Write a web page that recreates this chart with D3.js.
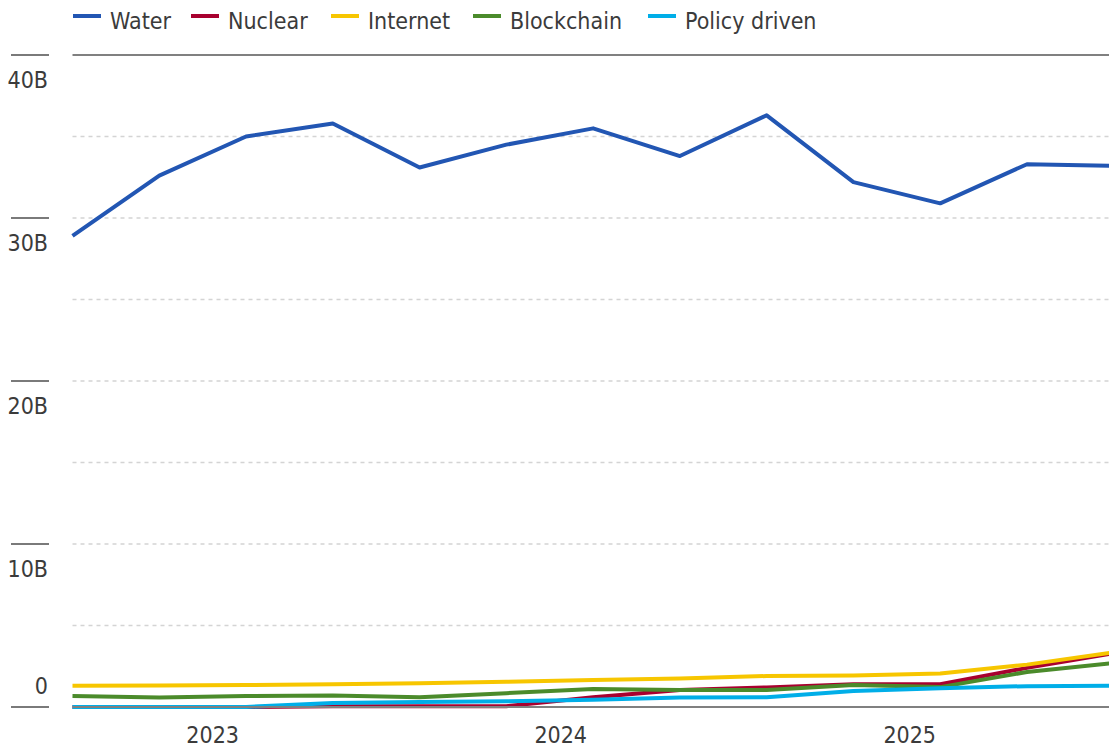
<!DOCTYPE html>
<html>
<head>
<meta charset="utf-8">
<script src="https://cdn.jsdelivr.net/npm/d3@7"></script>
<style>
  html, body { margin: 0; padding: 0; background: #fff; }
  svg text { font-family: "Liberation Sans Narrow", "DejaVu Sans Condensed", "Arial Narrow", sans-serif; fill: #3b3b3b; }
</style>
</head>
<body>
<svg id="chart" width="1109" height="751"></svg>
<script>
// ---- data ----
const dates = ["2022-08-07", "2022-11-06", "2023-02-05", "2023-05-07", "2023-08-06", "2023-11-05",
               "2024-02-04", "2024-05-05", "2024-08-04", "2024-11-03", "2025-02-02", "2025-05-04", "2025-08-03"];
const xDomain = ["2022-08-07", "2025-07-29"];
const seriesNames = ["Water", "Nuclear", "Internet", "Blockchain", "Policy driven"];
const seriesColors = ["#2256b3", "#a8002f", "#f7c600", "#4b8b2b", "#00aee8"];
const water      = [28.9, 32.6, 35.0, 35.8, 33.1, 34.5, 35.5, 33.8, 36.3, 32.2, 30.9, 33.3, 33.2];
const nuclear    = [0.0, 0.0, 0.0, 0.05, 0.05, 0.05, 0.6, 1.05, 1.2, 1.4, 1.4, 2.4, 3.3];
const internet   = [1.3, 1.32, 1.35, 1.4, 1.45, 1.55, 1.65, 1.75, 1.9, 1.93, 2.05, 2.6, 3.35];
const blockchain = [0.67, 0.58, 0.67, 0.7, 0.6, 0.85, 1.1, 1.05, 1.05, 1.35, 1.22, 2.15, 2.7];
const policy     = [0.0, 0.0, 0.0, 0.25, 0.3, 0.35, 0.45, 0.58, 0.6, 0.98, 1.15, 1.28, 1.3];
const yTickValues = [0, 10, 20, 30, 40];
const yTickLabels = ["0", "10B", "20B", "30B", "40B"];
const yGridValues = [5, 10, 15, 20, 25, 30, 35];
const xTickLabels = ["2023", "2024", "2025"];

const seriesValues = [water, nuclear, internet, blockchain, policy];

// ---- layout ----
const svg = d3.select("#chart");
const mLeft = 72.5, mRight = 1109, mTop = 55, mBottom = 707;
const FS = 23;
const parse = d3.timeParse("%Y-%m-%d");
const dts = dates.map(parse);

const x = d3.scaleTime().domain(xDomain.map(parse)).range([mLeft, mRight]);
const y = d3.scaleLinear().domain([0, 40]).range([mBottom, mTop]);

// dashed gridlines
svg.append("g").selectAll("line").data(yGridValues).join("line")
  .attr("x1", mLeft).attr("x2", mRight)
  .attr("y1", d => y(d)).attr("y2", d => y(d))
  .attr("stroke", "#d4d4d4").attr("stroke-width", 1.5).attr("stroke-dasharray", "4,4");

// top solid line at 40B
svg.append("line").attr("x1", mLeft).attr("x2", mRight).attr("y1", y(40)).attr("y2", y(40))
  .attr("stroke", "#808080").attr("stroke-width", 2);

// left tick marks and labels
const yt = svg.append("g");
yt.selectAll("line").data(yTickValues).join("line")
  .attr("x1", 11).attr("x2", 49)
  .attr("y1", d => y(d)).attr("y2", d => y(d))
  .attr("stroke", "#7a7a7a").attr("stroke-width", 2);
yt.selectAll("text").data(yTickValues).join("text")
  .attr("x", 48)
  .attr("y", d => d === 0 ? y(d) - 13 : y(d) + 33)
  .attr("text-anchor", "end")
  .attr("font-size", FS)
  .text((d, i) => yTickLabels[i]);

// lines
const line = d3.line().x((d, i) => x(dts[i])).y(d => y(d));
svg.append("g").selectAll("path").data(seriesValues).join("path")
  .attr("d", d => line(d))
  .attr("fill", "none")
  .attr("stroke", (d, i) => seriesColors[i])
  .attr("stroke-width", 4)
  .attr("stroke-linejoin", "round");

// zero axis line
svg.append("line").attr("x1", mLeft).attr("x2", mRight).attr("y1", y(0)).attr("y2", y(0))
  .attr("stroke", "#808080").attr("stroke-width", 2);

// x axis labels
const xTicks = xTickLabels.map(s => parse(s + "-01-01"));
svg.append("g").selectAll("text").data(xTicks).join("text")
  .attr("x", d => x(d))
  .attr("y", 743)
  .attr("text-anchor", "middle")
  .attr("font-size", FS)
  .text((d, i) => xTickLabels[i]);

// legend
const legendX = [73, 191, 331, 473, 648];
const lg = svg.append("g").selectAll("g").data(seriesNames).join("g")
  .attr("transform", (d, i) => `translate(${legendX[i]},0)`);
lg.append("line").attr("x1", 0).attr("x2", 28).attr("y1", 16).attr("y2", 16)
  .attr("stroke", (d, i) => seriesColors[i]).attr("stroke-width", 4);
lg.append("text").attr("x", 37).attr("y", 29).attr("font-size", FS).text(d => d);
</script>
</body>
</html>
